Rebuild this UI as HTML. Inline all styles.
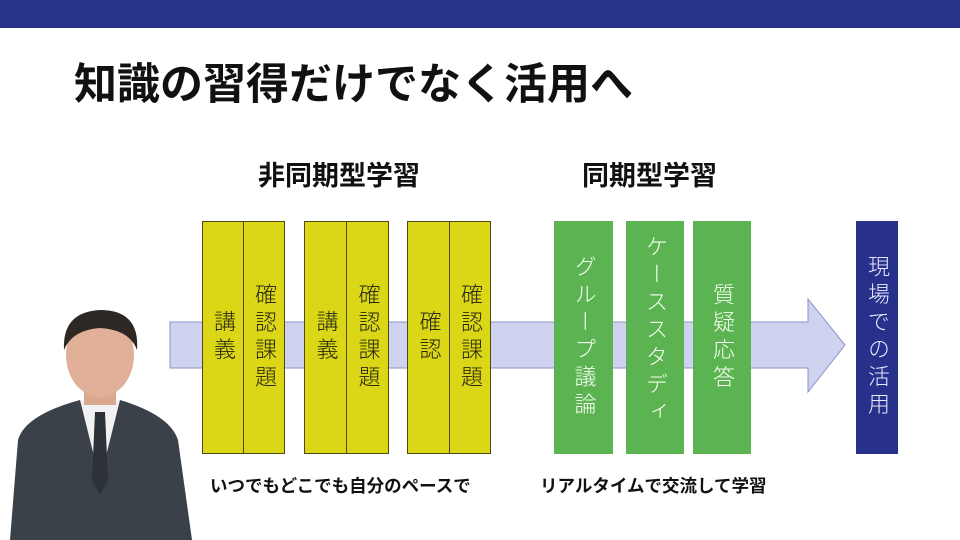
<!DOCTYPE html>
<html><head><meta charset="utf-8"><style>
*{margin:0;padding:0;box-sizing:border-box}
body{width:960px;height:540px;background:#fff;position:relative;overflow:hidden;font-family:"Liberation Sans","Noto Sans CJK JP",sans-serif}
.abs{position:absolute}
.v{writing-mode:vertical-rl;text-orientation:upright;font-size:22px;letter-spacing:5.5px;display:flex;align-items:center;justify-content:center;line-height:1;font-weight:300}
.y{background:#dcd716;border:1.5px solid #4d4a14;color:#2a2a10}
.g{background:#5cb352;color:#f4fff0}
</style></head><body>
<div class="abs" style="left:0;top:0;width:960px;height:28px;background:#27338b"></div>
<div class="abs" style="left:74px;top:50px;font-size:43px;font-weight:bold;color:#111;white-space:nowrap">知識の習得だけでなく活用へ</div>
<div class="abs" style="left:258px;top:154px;font-size:27px;font-weight:bold;color:#111;white-space:nowrap">非同期型学習</div>
<div class="abs" style="left:582px;top:154px;font-size:27px;font-weight:bold;color:#111;white-space:nowrap">同期型学習</div>
<svg class="abs" style="left:0;top:0" width="960" height="540">
<polygon points="170,322 808,322 808,299 845,345 808,392 808,368 170,368" fill="#cfd3f0" stroke="#8c93c8" stroke-width="1"/>
</svg>
<div class="abs v y" style="left:202px;top:221px;width:42px;height:233px">講義</div>
<div class="abs v y" style="left:243px;top:221px;width:42px;height:233px">確認課題</div>
<div class="abs v y" style="left:304px;top:221px;width:43px;height:233px">講義</div>
<div class="abs v y" style="left:346px;top:221px;width:43px;height:233px">確認課題</div>
<div class="abs v y" style="left:407px;top:221px;width:43px;height:233px">確認</div>
<div class="abs v y" style="left:449px;top:221px;width:42px;height:233px">確認課題</div>
<div class="abs v g" style="left:554px;top:221px;width:59px;height:233px">グループ議論</div>
<div class="abs v g" style="left:626px;top:221px;width:58px;height:233px;justify-content:flex-start;padding-top:14px">ケーススタディ</div>
<div class="abs v g" style="left:693px;top:221px;width:58px;height:233px">質疑応答</div>
<div class="abs v" style="left:856px;top:221px;width:42px;height:233px;background:#27308a;color:#e8eaff">現場での活用</div>
<div class="abs" style="left:210px;top:473px;font-size:17.5px;font-weight:bold;color:#111;white-space:nowrap">いつでもどこでも自分のペースで</div>
<div class="abs" style="left:540px;top:473px;font-size:17.5px;font-weight:bold;color:#111;white-space:nowrap">リアルタイムで交流して学習</div>
<svg class="abs" style="left:0;top:300px" width="200" height="240">
<path d="M10,240 L18,140 Q25,115 80,100 L120,100 Q170,115 178,140 L192,240 Z" fill="#3a4148"/>
<path d="M80,100 L100,180 L120,100 Z" fill="#f2f2f2"/>
<path d="M95,112 L105,112 L108,180 L100,195 L92,180 Z" fill="#2c3238"/>
<rect x="84" y="80" width="32" height="25" fill="#d9a88e"/>
<ellipse cx="100" cy="55" rx="34" ry="42" fill="#e0b098"/>
<path d="M64,50 Q62,12 100,10 Q140,10 137,50 Q130,30 100,28 Q72,30 64,50Z" fill="#2e2824"/>
</svg>
</body></html>
